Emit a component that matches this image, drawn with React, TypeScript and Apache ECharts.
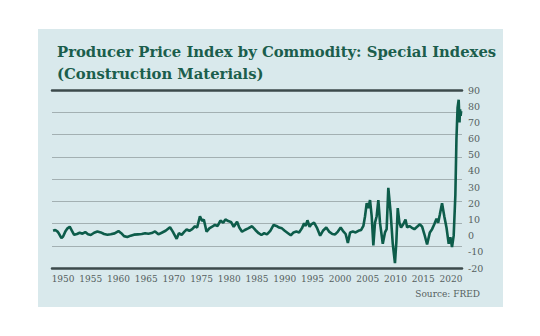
import React, { useEffect, useRef } from "react";
import * as echarts from "echarts";

const titleLines = ["Producer Price Index by Commodity: Special Indexes", "(Construction Materials)"];
const sourceText = "Source: FRED";
const yearTicks = [1950, 1955, 1960, 1965, 1970, 1975, 1980, 1985, 1990, 1995, 2000, 2005, 2010, 2015, 2020];

const times = [
  1948.2, 1948.6, 1949.0, 1949.3, 1949.7, 1950.0, 1950.4, 1950.8, 1951.2, 1951.6,
  1952.0, 1952.5, 1953.0, 1953.5, 1954.0, 1954.5, 1955.0, 1955.6, 1956.2, 1956.8,
  1957.4, 1958.0, 1958.6, 1959.3, 1960.0, 1960.5, 1961.0, 1961.6, 1962.2, 1962.8,
  1963.5, 1964.2, 1964.8, 1965.4, 1966.0, 1966.6, 1967.2, 1967.8, 1968.5, 1969.3,
  1969.8, 1970.5, 1970.9, 1971.4, 1971.9, 1972.3, 1972.8, 1973.3, 1973.8, 1974.2,
  1974.7, 1975.1, 1975.4, 1975.9, 1976.4, 1976.9, 1977.4, 1977.9, 1978.4, 1978.9,
  1979.3, 1979.8, 1980.3, 1980.8, 1981.4, 1981.8, 1982.3, 1982.8, 1983.4, 1984.1,
  1984.7, 1985.3, 1985.8, 1986.3, 1986.8, 1987.4, 1988.0, 1988.5, 1989.0, 1989.5,
  1990.0, 1990.6, 1991.1, 1991.6, 1992.1, 1992.6, 1993.1, 1993.5, 1993.8, 1994.1,
  1994.5, 1994.8, 1995.3, 1995.8, 1996.4, 1996.9, 1997.5, 1998.0, 1998.6, 1999.1,
  1999.6, 2000.1, 2000.5, 2001.0, 2001.4, 2001.8, 2002.3, 2002.8, 2003.3, 2003.8,
  2004.2, 2004.5, 2004.8, 2005.1, 2005.4, 2005.7, 2006.0, 2006.3, 2006.6, 2006.9,
  2007.2, 2007.7, 2008.1, 2008.4, 2008.7, 2009.1, 2009.5, 2009.9, 2010.15, 2010.4,
  2010.7, 2011.0, 2011.4, 2011.8, 2012.1, 2012.5, 2012.9, 2013.4, 2013.9, 2014.4,
  2014.8, 2015.2, 2015.7, 2016.2, 2016.6, 2017.0, 2017.4, 2017.7, 2018.0, 2018.4,
  2018.8, 2019.2, 2019.6, 2019.9, 2020.2, 2020.5, 2020.8, 2021.0, 2021.2, 2021.4,
  2021.55, 2021.65, 2021.75, 2021.85, 2021.95
];

const values = [
  3.0, 3.5, 2.5, 1.0, -1.5, -0.5, 2.5, 4.5, 5.5, 3.0,
  0.5, 1.0, 1.8, 1.2, 2.2, 0.8, 0.4, 1.8, 2.6, 2.0,
  1.0, 0.6, 0.9, 1.4, 2.8, 1.5, -0.3, -0.8, 0.0, 0.6,
  0.8, 1.0, 1.5, 1.2, 1.6, 2.6, 0.8, 1.8, 3.0, 5.2,
  2.5, -2.0, 1.5, 0.5, 2.5, 3.8, 3.0, 4.0, 5.8, 5.0,
  12.0, 9.0, 10.0, 2.4, 4.5, 5.5, 6.6, 6.0, 9.3, 8.0,
  10.0, 9.0, 8.5, 5.5, 8.6, 5.0, 2.4, 3.5, 4.5, 5.8,
  3.5, 1.5, 0.4, 1.5, 0.8, 3.0, 6.6, 6.0, 5.0, 4.5,
  3.0, 1.5, 0.2, 2.0, 2.5, 2.0, 4.5, 7.6, 6.0, 9.5,
  5.5, 7.0, 8.0, 5.0, 0.0, 3.0, 5.0, 2.5, 1.0, 0.8,
  2.5, 5.0, 3.0, 1.0, -4.5, 2.0, 2.5, 2.0, 3.0, 3.5,
  6.0, 12.0, 20.0, 17.0, 22.0, 12.0, -6.0, 8.0, 12.0, 22.0,
  8.0, -5.0, 2.0, 4.0, 29.5, 15.0, -5.0, -17.0, -4.0, 17.0,
  8.0, 5.0, 7.0, 10.0, 5.0, 6.0, 5.0, 4.0, 5.5, 7.0,
  5.5, 1.0, -5.5, 2.0, 4.0, 7.0, 10.5, 8.0, 13.0, 20.0,
  12.0, 5.0, -5.0, -1.0, -7.0, 0.0, 25.0, 60.0, 79.0, 84.0,
  70.0, 78.0, 74.0, 77.0
];

export default function App() {
  const ref = useRef<HTMLDivElement>(null);
  useEffect(() => {
    if (!ref.current) return;
    const chart = echarts.init(ref.current, undefined, { renderer: "svg" });
    const data = times.map((t, i) => [t, values[i]]);
    chart.setOption({
      animation: false,
      backgroundColor: "transparent",
      title: [
        {
          text: titleLines.join("\n"),
          left: 52,
          top: 35,
          textStyle: {
            fontFamily: "DejaVu Serif",
            fontWeight: "bold",
            fontSize: 14.8,
            lineHeight: 22,
            color: "#1b5e4c",
          },
        },
        {
          text: sourceText,
          right: 55,
          top: 284,
          textStyle: {
            fontFamily: "DejaVu Serif",
            fontWeight: "normal",
            fontSize: 9,
            color: "#555f60",
          },
        },
      ],
      grid: { left: 52, right: 78, top: 90, bottom: 68 },
      xAxis: [
        {
          type: "value",
          position: "bottom",
          min: 1948,
          max: 2022,
          z: 5,
          axisLine: { show: true, onZero: false, lineStyle: { color: "#3c4a4b", width: 2.5 } },
          axisTick: { show: false },
          splitLine: { show: false },
          axisLabel: {
            customValues: yearTicks,
            formatter: (v: number) => String(v),
            color: "#555f60",
            fontFamily: "DejaVu Serif",
            fontSize: 9,
            margin: 6,
          },
        },
        {
          type: "value",
          position: "top",
          min: 1948,
          max: 2022,
          z: 5,
          axisLine: { show: true, onZero: false, lineStyle: { color: "#3c4a4b", width: 2.5 } },
          axisTick: { show: false },
          splitLine: { show: false },
          axisLabel: { show: false },
        },
      ],
      yAxis: [
        {
          type: "value",
          position: "right",
          min: -20,
          max: 90,
          interval: 10,
          axisLine: { show: false },
          axisTick: { show: false },
          splitLine: { show: false },
          axisLabel: {
            color: "#555f60",
            fontFamily: "DejaVu Serif",
            fontSize: 9.5,
            margin: 6,
            align: "left",
          },
        },
        {
          type: "value",
          position: "left",
          min: -20,
          max: 90,
          interval: 13.75,
          axisLine: { show: false },
          axisTick: { show: false },
          axisLabel: { show: false },
          splitLine: { show: true, lineStyle: { color: "#a3b0b2", width: 1 } },
        },
      ],
      series: [
        {
          type: "line",
          xAxisIndex: 0,
          yAxisIndex: 0,
          data,
          showSymbol: false,
          z: 3,
          lineStyle: { color: "#0d5c4a", width: 2.6 },
        },
      ],
    });
    return () => chart.dispose();
  }, []);

  return (
    <div style={{ position: "fixed", left: 0, top: 0, width: 540, height: 336, background: "#ffffff" }}>
      <div
        style={{
          position: "absolute",
          left: 38,
          top: 29,
          width: 465,
          height: 278,
          background: "#d9e9ec",
        }}
      />
      <div ref={ref} style={{ position: "absolute", left: 0, top: 0, width: 540, height: 336 }} />
    </div>
  );
}
